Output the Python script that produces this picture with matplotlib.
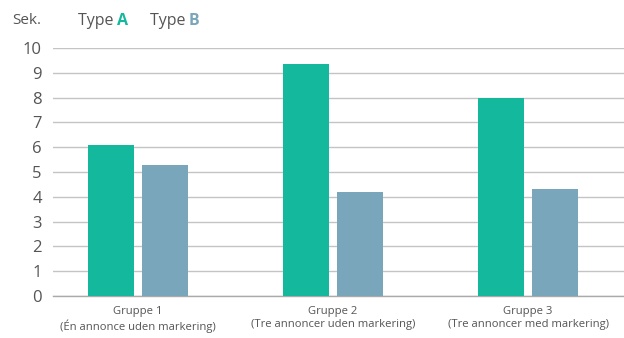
import numpy as np
import matplotlib.pyplot as plt

plt.rcParams['font.family'] = ['Open Sans', 'DejaVu Sans']

# Data
grupper = ['Gruppe 1\n(Én annonce uden markering)',
           'Gruppe 2\n(Tre annoncer uden markering)',
           'Gruppe 3\n(Tre annoncer med markering)']
type_a = [6.1, 9.35, 8.0]
type_b = [5.3, 4.2, 4.3]
yticks = list(range(0, 11))

farve_a = '#13b89d'
farve_b = '#7aa6bb'
tekst = '#555555'

fig = plt.figure(figsize=(6.24, 3.38), dpi=100)
ax = fig.add_axes([53 / 624, 1 - 296 / 338, 571 / 624, 248 / 338])

x = np.arange(len(grupper))
bredde = 0.236
ax.bar(x - 0.138, type_a, bredde, color=farve_a, zorder=3)
ax.bar(x + 0.138, type_b, bredde, color=farve_b, zorder=3)

ax.set_xlim(-0.436, 2.492)
ax.set_ylim(0, 10)
ax.set_yticks(yticks)
ax.set_yticklabels([str(t) for t in yticks], fontsize=12, color=tekst)
ax.set_xticks(x)
ax.set_xticklabels(grupper, fontsize=8.1, color=tekst, linespacing=1.25)
ax.tick_params(axis='y', length=0, pad=8)
ax.tick_params(axis='x', length=0, pad=7)

ax.grid(axis='y', color='#c4c4c4', linewidth=1, zorder=0)
for s in ['top', 'right', 'left']:
    ax.spines[s].set_visible(False)
ax.spines['bottom'].set_color('#aaaaaa')
ax.spines['bottom'].set_linewidth(1)

# Enhed og forklaring
fig.text(12 / 624, 1 - 20 / 338, 'Sek.', fontsize=11, color=tekst, va='center')
fig.text(78 / 624, 1 - 21 / 338, 'Type ', fontsize=11.5, color=tekst, va='center')
fig.text(117 / 624, 1 - 21 / 338, 'A', fontsize=11.5, color=farve_a,
         fontweight='bold', va='center')
fig.text(150 / 624, 1 - 21 / 338, 'Type ', fontsize=11.5, color=tekst, va='center')
fig.text(189 / 624, 1 - 21 / 338, 'B', fontsize=11.5, color=farve_b,
         fontweight='bold', va='center')

fig.savefig('out.png', dpi=100)
